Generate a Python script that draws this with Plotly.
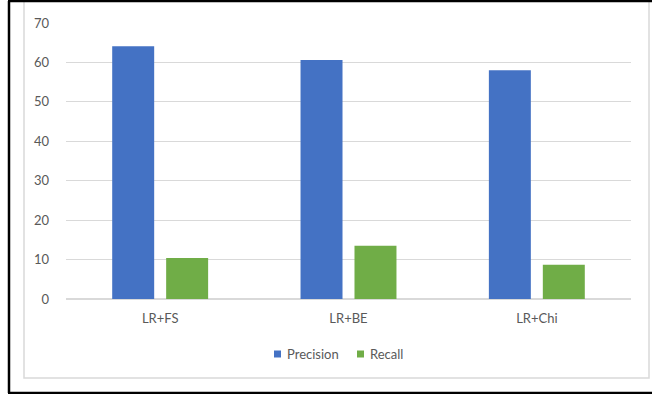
import plotly.graph_objects as go

# Model variants and scores (%)
categories = ["LR+FS", "LR+BE", "LR+Chi"]
precision = [64.1, 60.6, 58.0]
recall = [10.4, 13.5, 8.7]
y_ticks = [0, 10, 20, 30, 40, 50, 60, 70]
series_names = ["Precision", "Recall"]
series_colors = ["#4472C4", "#70AD47"]

W, H = 652, 394
L, R, T, B = 66, 21, 23, 95
pw, ph = W - L - R, H - T - B


def px_x(x):
    return (x - L) / pw


def px_y(y):
    return (H - B - y) / ph


font = dict(family="Lato, Liberation Sans, sans-serif", size=13, color="#595959")

fig = go.Figure()
for name, vals, col in zip(series_names, [precision, recall], series_colors):
    fig.add_trace(go.Bar(x=categories, y=vals, name=name,
                         marker=dict(color=col, line=dict(width=0))))

shapes = [
    # light chart-area frame
    dict(type="rect", xref="paper", yref="paper",
         x0=px_x(24), x1=px_x(649), y0=px_y(378), y1=px_y(-5),
         line=dict(color="#D9D9D9", width=1.5), layer="below"),
    # dark outer frame (left, top, bottom)
    dict(type="line", xref="paper", yref="paper",
         x0=px_x(9), x1=px_x(9), y0=px_y(1), y1=px_y(393),
         line=dict(color="black", width=2.5)),
    dict(type="line", xref="paper", yref="paper",
         x0=px_x(8), x1=px_x(652), y0=px_y(1), y1=px_y(1),
         line=dict(color="black", width=2.5)),
    dict(type="line", xref="paper", yref="paper",
         x0=px_x(8), x1=px_x(652), y0=px_y(393), y1=px_y(393),
         line=dict(color="black", width=2.5)),
]

# legend drawn as small swatches with labels below the axis
annotations = []
legend_left = [274, 357]
for name, col, x0 in zip(series_names, series_colors, legend_left):
    shapes.append(dict(type="rect", xref="paper", yref="paper",
                       x0=px_x(x0), x1=px_x(x0 + 7),
                       y0=px_y(357.5), y1=px_y(350.5),
                       fillcolor=col, line=dict(width=0)))
    annotations.append(dict(text=name, xref="paper", yref="paper",
                            x=px_x(x0 + 11), y=px_y(354),
                            xanchor="left", yanchor="middle",
                            showarrow=False, font=font))

fig.update_layout(
    width=W, height=H,
    margin=dict(l=L, r=R, t=T, b=B, autoexpand=False),
    paper_bgcolor="white", plot_bgcolor="white",
    font=font,
    barmode="group", bargap=0.427, bargroupgap=0.222,
    showlegend=False,
    shapes=shapes,
    annotations=annotations,
)
fig.update_xaxes(showgrid=False, showline=False, zeroline=False,
                 ticks="", tickfont=font, ticklabelstandoff=10)
fig.update_yaxes(range=[0, 70], tickvals=y_ticks, showgrid=True,
                 gridcolor="#D9D9D9", gridwidth=1, zeroline=True,
                 zerolinecolor="#D9D9D9", zerolinewidth=1.5,
                 showline=False, ticks="", tickfont=font,
                 ticklabelstandoff=16)

fig.write_html("out.html")
